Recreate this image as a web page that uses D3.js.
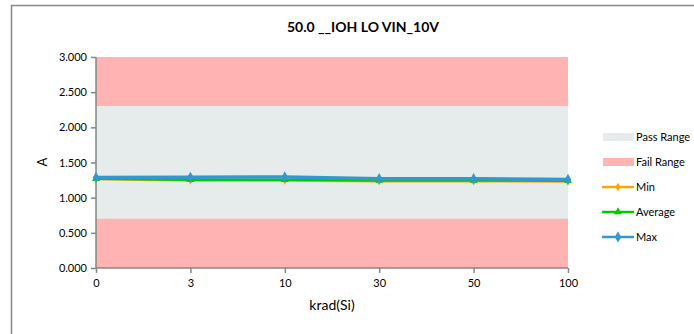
<!DOCTYPE html>
<html><head><meta charset="utf-8">
<script src="https://cdn.jsdelivr.net/npm/d3@7"></script>
<style>body{margin:0;background:#fff}svg{display:block;font-family:Lato,"Liberation Sans",sans-serif}</style>
</head><body><svg id="c" width="694" height="334"></svg>
<script>
const categories = ["0","3","10","30","50","100"];
const minVals = [1.265,1.245,1.245,1.235,1.235,1.230];
const avgVals = [1.270,1.255,1.255,1.245,1.245,1.240];
const maxVals = [1.285,1.290,1.295,1.270,1.270,1.260];
const passRange = [0.7, 2.3];
const yTicks = [0,0.5,1,1.5,2,2.5,3];
const title = "50.0 __IOH LO VIN_10V";

const svg = d3.select("#c");
const L=96,R=568,T=57,B=268;
svg.append("rect").attr("x",11.5).attr("y",5.5).attr("width",700).attr("height",340)
  .attr("fill","#fff").attr("stroke","#898989").attr("stroke-width",1.5);

const x = d3.scalePoint().domain(categories).range([L,R]);
const y = d3.scaleLinear().domain([0,3]).range([B,T]);

svg.append("rect").attr("x",L).attr("width",R-L).attr("y",y(3)).attr("height",y(passRange[1])-y(3)).attr("fill","#ffb3b3");
svg.append("rect").attr("x",L).attr("width",R-L).attr("y",y(passRange[1])).attr("height",y(passRange[0])-y(passRange[1])).attr("fill","#e6ebeb");
svg.append("rect").attr("x",L).attr("width",R-L).attr("y",y(passRange[0])).attr("height",y(0)-y(passRange[0])).attr("fill","#ffb3b3");

const ya = svg.append("g").attr("transform",`translate(${L},0)`)
  .call(d3.axisLeft(y).tickValues(yTicks).tickFormat(d3.format(".3f")).tickSize(5).tickPadding(4));
const xa = svg.append("g").attr("transform",`translate(0,${B})`)
  .call(d3.axisBottom(x).tickSize(5).tickPadding(6));
[ya,xa].forEach(g=>{
  g.selectAll("path,line").attr("stroke","#868686").attr("stroke-width",1.5);
  g.selectAll("text").attr("font-size",11).attr("fill","#000").attr("font-family","Lato");
});
xa.select(".domain").attr("d",`M${L},0H${R}`);
ya.select(".domain").attr("d",`M0,${B}V${T}`);

const line = d3.line().x((d,i)=>x(categories[i])).y(d=>y(d));
const series = [
  {name:"Min",vals:minVals,color:"#ffa500",shape:d3.symbolDiamond,size:22},
  {name:"Average",vals:avgVals,color:"#00cc00",shape:d3.symbolTriangle,size:28},
  {name:"Max",vals:maxVals,color:"#3399cc",shape:d3.symbolDiamond,size:36}
];
series.forEach(s=>{
  svg.append("path").attr("d",line(s.vals)).attr("fill","none").attr("stroke",s.color).attr("stroke-width",s.name==="Max"?3.5:2.5);
  svg.selectAll(null).data(s.vals).enter().append("path")
    .attr("d",d3.symbol().type(s.shape).size(s.size))
    .attr("transform",(d,i)=>`translate(${x(categories[i])},${y(d)})`)
    .attr("fill",s.color);
});

svg.append("text").attr("x",363).attr("y",32).attr("text-anchor","middle").attr("font-weight","bold").attr("font-size",14).text(title);
svg.append("text").attr("transform","translate(47,162) rotate(-90)").attr("text-anchor","middle").attr("font-size",13).text("A");
svg.append("text").attr("x",332).attr("y",310).attr("text-anchor","middle").attr("font-size",14).text("krad(Si)");

const lg = svg.append("g");
const items = [
  {name:"Pass Range",type:"rect",color:"#e6ebeb"},
  {name:"Fail Range",type:"rect",color:"#ffb3b3"},
  ...series.map(s=>({name:s.name,type:"line",color:s.color,shape:s.shape,size:s.size}))
];
items.forEach((it,i)=>{
  const cy = 137 + i*25;
  if(it.type==="rect"){
    lg.append("rect").attr("x",603).attr("y",cy-4).attr("width",31).attr("height",8).attr("fill",it.color);
  } else {
    lg.append("line").attr("x1",602).attr("x2",634).attr("y1",cy).attr("y2",cy).attr("stroke",it.color).attr("stroke-width",2.5);
    lg.append("path").attr("d",d3.symbol().type(it.shape).size(it.size)).attr("transform",`translate(618,${cy})`).attr("fill",it.color);
  }
  lg.append("text").attr("x",636).attr("y",cy+4).attr("font-size",11).text(it.name);
});
</script></body></html>
